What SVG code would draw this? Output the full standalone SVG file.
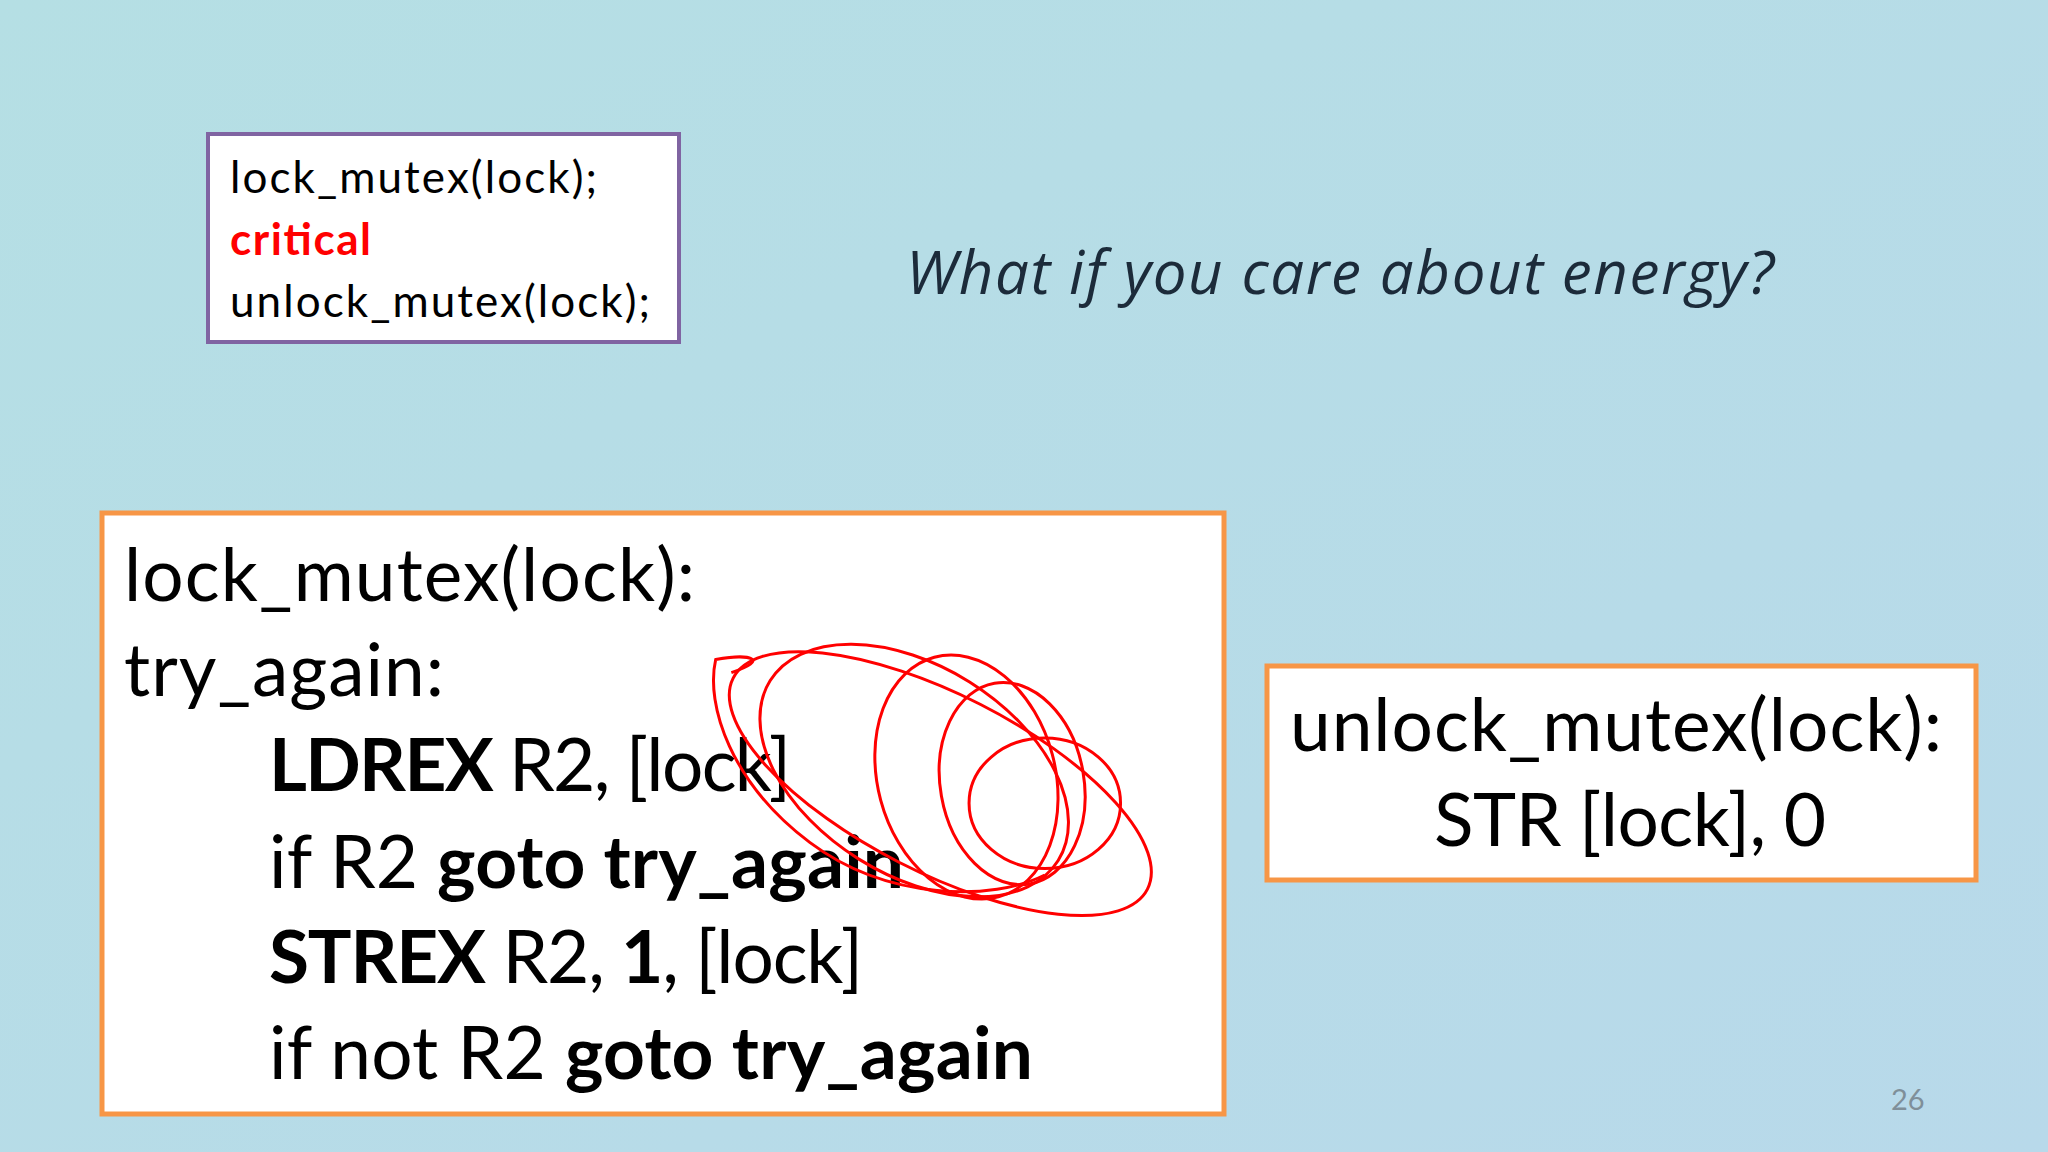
<svg xmlns="http://www.w3.org/2000/svg" width="2048" height="1152" viewBox="0 0 2048 1152">
<style>
.t{font-family:Lato,"Open Sans","Liberation Sans",sans-serif;fill:#000}
.b{font-weight:bold}
.box{fill:#fff}
</style>
<defs><linearGradient id="bg" x1="0" y1="0" x2="1" y2="1"><stop offset="0" stop-color="#b5dfe4"/><stop offset="1" stop-color="#b8d9ea"/></linearGradient></defs>
<rect width="2048" height="1152" fill="url(#bg)"/>
<g id="small">
<rect class="box" x="208" y="134" width="471" height="208" stroke="#8064a2" stroke-width="4"/>
<text class="t" x="230" y="193" font-size="44" textLength="367">lock_mutex(lock);</text>
<text class="t b" x="230" y="255" font-size="44" style="fill:#f00" textLength="141">critical</text>
<text class="t" x="230" y="317" font-size="44" textLength="420">unlock_mutex(lock);</text>
</g>
<g id="question">
<text x="906" y="294" font-size="60" font-style="italic" font-family="'Open Sans',Lato,sans-serif" fill="#1c2b3a" textLength="868">What if you care about energy?</text>
</g>
<g id="lock">
<rect class="box" x="102" y="513" width="1122" height="601" stroke="#f79646" stroke-width="5"/>
<text class="t" x="124" y="601" font-size="73" textLength="571">lock_mutex(lock):</text>
<text class="t" x="124" y="696" font-size="73" textLength="320">try_again:</text>
<text class="t" x="269" y="791" font-size="73" textLength="522"><tspan class="b">LDREX</tspan> R2, [lock]</text>
<text class="t" x="269" y="888" font-size="73" textLength="635">if R2 <tspan class="b">goto try_again</tspan></text>
<text class="t" x="269" y="983" font-size="73" textLength="594"><tspan class="b">STREX</tspan> R2, <tspan class="b">1</tspan>, [lock]</text>
<text class="t" x="269" y="1079" font-size="73" textLength="764">if not R2 <tspan class="b">goto try_again</tspan></text>
</g>
<g id="unlock">
<rect class="box" x="1267" y="666" width="709" height="214" stroke="#f79646" stroke-width="5"/>
<text class="t" x="1290" y="751" font-size="73" textLength="652">unlock_mutex(lock):</text>
<text class="t" x="1434" y="846" font-size="73" textLength="392">STR [lock], 0</text>
</g>
<g id="scribble" transform="scale(1.306)" fill="none" stroke="#f00" stroke-width="2.3">
<path d="M560,515 C590,505 575,500 548,505 C540,540 560,600 620,645 C680,690 760,690 800,670"/>
<ellipse cx="720" cy="600" rx="178" ry="68" transform="rotate(27 720 600)"/>
<ellipse cx="700" cy="590" rx="130" ry="80" transform="rotate(32 700 590)"/>
<ellipse cx="740" cy="595" rx="68" ry="95" transform="rotate(-15 740 595)"/>
<ellipse cx="775" cy="600" rx="55" ry="78" transform="rotate(-10 775 600)"/>
<ellipse cx="800" cy="615" rx="58" ry="50"/>
</g>
<g id="page"><text x="1891" y="1110" font-size="29" font-family="Lato,sans-serif" fill="#7f8f99">26</text></g>
</svg>
